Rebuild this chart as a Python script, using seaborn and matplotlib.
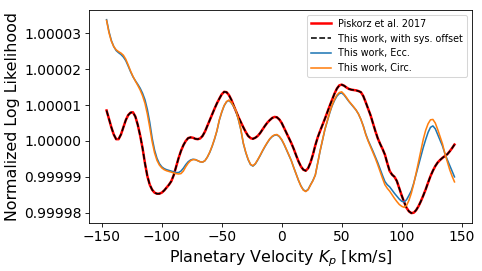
import matplotlib
matplotlib.use("Agg")
import matplotlib.pyplot as plt
import matplotlib.ticker as mticker
import seaborn as sns
import numpy as np

# Planetary velocity grid (km/s)
kp = list(range(-146, 145, 2))

# Log-likelihood values, written as deviation from 1 in units of 1e-5
piskorz_dev = [
    0.85, 0.62, 0.38, 0.18, 0.05, 0.05, 0.18, 0.38, 0.58, 0.72,      # -146 .. -128
    0.79, 0.80, 0.68, 0.45, 0.15, -0.20, -0.62, -0.98, -1.22, -1.36,  # -126 .. -108
    -1.44, -1.47, -1.47, -1.44, -1.38, -1.30, -1.22, -1.12, -0.95, -0.72,  # -106 .. -88
    -0.48, -0.28, -0.12, 0.00, 0.08, 0.10, 0.09, 0.06, 0.05, 0.07,   # -86 .. -68
    0.14, 0.26, 0.42, 0.58, 0.74, 0.90, 1.05, 1.18, 1.30, 1.37,      # -66 .. -48
    1.36, 1.28, 1.15, 0.98, 0.82, 0.66, 0.52, 0.38, 0.25, 0.14,      # -46 .. -28
    0.08, 0.06, 0.09, 0.14, 0.22, 0.32, 0.42, 0.51, 0.58, 0.64,      # -26 .. -8
    0.67, 0.66, 0.60, 0.50, 0.36, 0.22, 0.08, -0.06, -0.22, -0.40,   # -6 .. 12
    -0.57, -0.71, -0.80, -0.83, -0.76, -0.60, -0.38, -0.12, 0.10, 0.28,  # 14 .. 32
    0.45, 0.62, 0.80, 0.98, 1.15, 1.32, 1.46, 1.55, 1.57, 1.54,      # 34 .. 52
    1.49, 1.45, 1.43, 1.42, 1.41, 1.39, 1.36, 1.25, 1.08, 0.90,      # 54 .. 72
    0.72, 0.50, 0.28, 0.08, -0.08, -0.22, -0.38, -0.62, -0.84, -0.94,  # 74 .. 92
    -1.00, -1.12, -1.32, -1.52, -1.70, -1.86, -1.96, -2.01, -2.00, -1.93,  # 94 .. 112
    -1.82, -1.68, -1.52, -1.35, -1.16, -0.98, -0.83, -0.70, -0.60, -0.53,  # 114 .. 132
    -0.47, -0.42, -0.37, -0.29, -0.20, -0.10,                        # 134 .. 144
]

offset_dev = list(piskorz_dev)

ecc_dev = [
    3.38, 3.05, 2.80, 2.63, 2.52, 2.46, 2.41, 2.34, 2.24, 2.09,      # -146 .. -128
    1.93, 1.79, 1.68, 1.58, 1.47, 1.33, 1.15, 0.88, 0.52, 0.08,      # -126 .. -108
    -0.25, -0.48, -0.63, -0.72, -0.77, -0.80, -0.82, -0.84, -0.86, -0.88,  # -106 .. -88
    -0.88, -0.84, -0.76, -0.66, -0.58, -0.53, -0.51, -0.52, -0.55, -0.58,  # -86 .. -68
    -0.59, -0.55, -0.45, -0.32, -0.15, 0.05, 0.28, 0.58, 0.80, 0.98,  # -66 .. -48
    1.09, 1.13, 1.06, 0.96, 0.82, 0.58, 0.30, -0.07, -0.32, -0.52,   # -46 .. -28
    -0.66, -0.70, -0.64, -0.53, -0.41, -0.28, -0.16, -0.05, 0.05, 0.12,  # -26 .. -8
    0.16, 0.17, 0.12, 0.03, -0.10, -0.25, -0.40, -0.55, -0.74, -0.92,  # -6 .. 12
    -1.10, -1.25, -1.36, -1.40, -1.35, -1.22, -1.10, -0.95, -0.62, -0.28,  # 14 .. 32
    0.02, 0.32, 0.55, 0.78, 0.98, 1.13, 1.25, 1.32, 1.34, 1.28,      # 34 .. 52
    1.19, 1.10, 1.02, 0.94, 0.86, 0.75, 0.60, 0.42, 0.20, 0.02,      # 54 .. 72
    -0.13, -0.28, -0.44, -0.60, -0.78, -0.96, -1.13, -1.22, -1.28, -1.37,  # 74 .. 92
    -1.46, -1.54, -1.62, -1.68, -1.70, -1.64, -1.52, -1.39, -1.18, -0.93,  # 94 .. 112
    -0.68, -0.42, -0.18, 0.04, 0.24, 0.38, 0.42, 0.34, 0.18, 0.02,   # 114 .. 132
    -0.14, -0.35, -0.52, -0.68, -0.84, -1.00,                        # 134 .. 144
]

circ_dev = [
    3.36, 3.02, 2.78, 2.63, 2.54, 2.49, 2.45, 2.39, 2.28, 2.12,      # -146 .. -128
    1.95, 1.80, 1.67, 1.55, 1.42, 1.26, 1.05, 0.75, 0.38, -0.02,     # -126 .. -108
    -0.33, -0.54, -0.67, -0.75, -0.80, -0.83, -0.85, -0.87, -0.89, -0.91,  # -106 .. -88
    -0.92, -0.91, -0.84, -0.72, -0.62, -0.55, -0.52, -0.52, -0.55, -0.58,  # -86 .. -68
    -0.59, -0.55, -0.45, -0.31, -0.14, 0.06, 0.29, 0.59, 0.81, 0.99,  # -66 .. -48
    1.10, 1.14, 1.07, 0.97, 0.83, 0.59, 0.31, -0.06, -0.31, -0.51,   # -46 .. -28
    -0.65, -0.69, -0.63, -0.52, -0.40, -0.27, -0.15, -0.04, 0.06, 0.13,  # -26 .. -8
    0.17, 0.18, 0.13, 0.04, -0.09, -0.24, -0.39, -0.55, -0.74, -0.92,  # -6 .. 12
    -1.10, -1.26, -1.37, -1.41, -1.36, -1.23, -1.11, -0.95, -0.61, -0.27,  # 14 .. 32
    0.03, 0.33, 0.57, 0.80, 1.00, 1.16, 1.28, 1.35, 1.37, 1.30,      # 34 .. 52
    1.21, 1.11, 1.03, 0.95, 0.86, 0.75, 0.60, 0.41, 0.18, 0.00,      # 54 .. 72
    -0.16, -0.32, -0.48, -0.66, -0.85, -1.04, -1.22, -1.32, -1.40, -1.50,  # 74 .. 92
    -1.60, -1.69, -1.77, -1.82, -1.85, -1.80, -1.66, -1.46, -1.20, -0.90,  # 94 .. 112
    -0.58, -0.25, 0.05, 0.30, 0.48, 0.59, 0.60, 0.50, 0.32, 0.12,    # 114 .. 132
    -0.08, -0.35, -0.58, -0.80, -0.98, -1.14,                        # 134 .. 144
]

labels = ["Piskorz et al. 2017", "This work, with sys. offset", "This work, Ecc.", "This work, Circ."]
yticks = [0.99998, 0.99999, 1.00000, 1.00001, 1.00002, 1.00003]
xticks = [-150, -100, -50, 0, 50, 100, 150]
scale = 1e-5

def to_ll(dev):
    return 1.0 + np.array(dev) * scale

fig, ax = plt.subplots(figsize=(482 / 75, 271 / 75), dpi=75)
fig.subplots_adjust(left=0.185, right=0.979, top=0.963, bottom=0.178)

sns.lineplot(x=kp, y=to_ll(piskorz_dev), ax=ax, color="red", lw=2.4, label=labels[0])
sns.lineplot(x=kp, y=to_ll(offset_dev), ax=ax, color="black", lw=1.5, linestyle="--", label=labels[1])
sns.lineplot(x=kp, y=to_ll(ecc_dev), ax=ax, color="#1f77b4", lw=1.5, label=labels[2])
sns.lineplot(x=kp, y=to_ll(circ_dev), ax=ax, color="#ff7f0e", lw=1.5, label=labels[3])

ax.set_yticks(yticks)
ax.yaxis.set_major_formatter(mticker.FormatStrFormatter("%.5f"))
ax.set_xticks(xticks)
ax.tick_params(labelsize=13.3)
ax.set_xlabel(r"Planetary Velocity $K_p$ [km/s]", fontsize=15.3)
ax.set_ylabel("Normalized Log Likelihood", fontsize=15.3)
ax.legend(loc="upper right", fontsize=9.3)

fig.savefig("out.png", dpi=75)
